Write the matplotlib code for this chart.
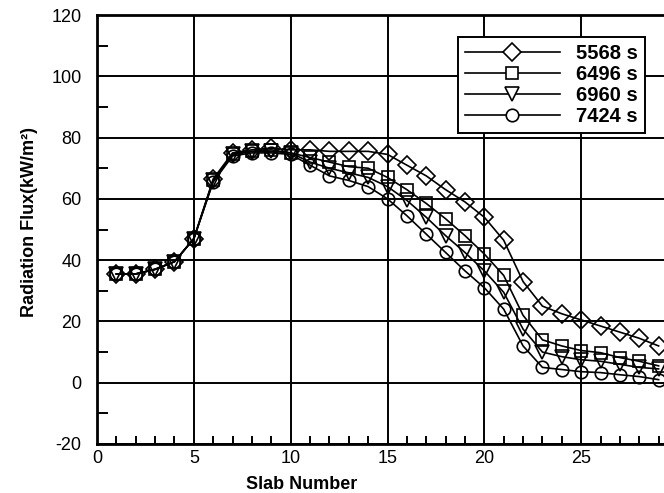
import numpy as np
from matplotlib import pyplot as plt
from matplotlib.ticker import MultipleLocator

# data
slabs = np.arange(1, 30)
flux_5568 = [35.5, 35.5, 37, 39.5, 47, 66.5, 75, 76, 76.5, 76, 76, 75.5, 75.5, 75.5, 74.5,
             71, 67.5, 63, 59, 54, 46.5, 33, 25, 22.5, 20.5, 18.5, 16.5, 14.5, 12]
flux_6496 = [35.5, 35.5, 37, 39.5, 47, 66, 74.5, 75.5, 76, 75, 73.5, 72, 70.5, 70, 67,
             63, 58.5, 53.5, 48, 42, 35, 22, 14, 12, 10.5, 9.8, 8.2, 7, 5.5]
flux_6960 = [35.5, 35.5, 37, 39.5, 47, 66, 74.5, 75.5, 75.5, 75, 72, 70, 68.5, 67, 64,
             59.5, 54, 48, 42.5, 36.5, 29.5, 17.5, 10, 8.5, 7.5, 7, 6, 5, 4.5]
flux_7424 = [35.5, 35.5, 37, 39.5, 47, 65.5, 74, 75, 75, 74.5, 71, 67.5, 66, 64, 60,
             54.5, 48.5, 42.5, 36.5, 31, 24, 12, 5, 4.3, 3.6, 3.3, 2.6, 2, 1]
labels = ["5568 s", "6496 s", "6960 s", "7424 s"]
markers = ["D", "s", "v", "o"]
sizes = [9, 9, 10, 9]
x_ticks = [0, 5, 10, 15, 20, 25]

plt.rcParams["font.family"] = ["Liberation Sans", "DejaVu Sans"]
plt.rcParams["font.size"] = 12
plt.rcParams["axes.unicode_minus"] = False

fig = plt.figure(figsize=(6.64, 4.93), dpi=100)
# axes run past the right edge of the figure, as in the reference
ax = fig.add_axes([97 / 664, 49 / 493, 581 / 664, 429 / 493])

for y, lab, m, ms in zip([flux_5568, flux_6496, flux_6960, flux_7424], labels, markers, sizes):
    ax.plot(slabs, y, color="black", lw=1.2, marker=m, ms=ms, mfc="none",
            mec="black", mew=1.2, label=lab)

ax.set_xlim(0, 30)
ax.set_ylim(-20, 120)
ax.set_xticks(x_ticks)
ax.xaxis.set_minor_locator(MultipleLocator(1))
ax.yaxis.set_major_locator(MultipleLocator(20))
ax.yaxis.set_minor_locator(MultipleLocator(10))
ax.grid(True, which="major", color="black", lw=1.4)
ax.axvline(30, color="black", lw=1.4)
ax.tick_params(which="both", direction="in", color="black", width=1.4)
ax.tick_params(which="major", length=0)
ax.tick_params(which="minor", length=6)
ax.tick_params(axis="y", which="minor", length=8)
ax.tick_params(axis="y", pad=11, labelsize=13)
ax.tick_params(axis="x", pad=4, labelsize=13)
for s in ax.spines.values():
    s.set_linewidth(2)

ax.set_xlabel("Slab Number", fontweight="bold", fontsize=13)
ax.xaxis.set_label_coords(0.353, -0.074)
ax.set_ylabel("Radiation Flux(kW/m²)", fontweight="bold", fontsize=13)
ax.yaxis.set_label_coords(-0.101, 0.517)

leg = ax.legend(loc="upper left", bbox_to_anchor=((458 - 97) / 581, (444 - 37) / 429),
                frameon=True, fancybox=False, edgecolor="black", framealpha=1,
                handlelength=4.7, handletextpad=0.8, borderpad=0.35, labelspacing=0.1,
                borderaxespad=0, prop={"weight": "bold", "size": 14.5})
leg.get_frame().set_linewidth(1.4)
for h in leg.legend_handles:
    h.set_markerfacecolor("white")

plt.savefig("out.png", dpi=100)
